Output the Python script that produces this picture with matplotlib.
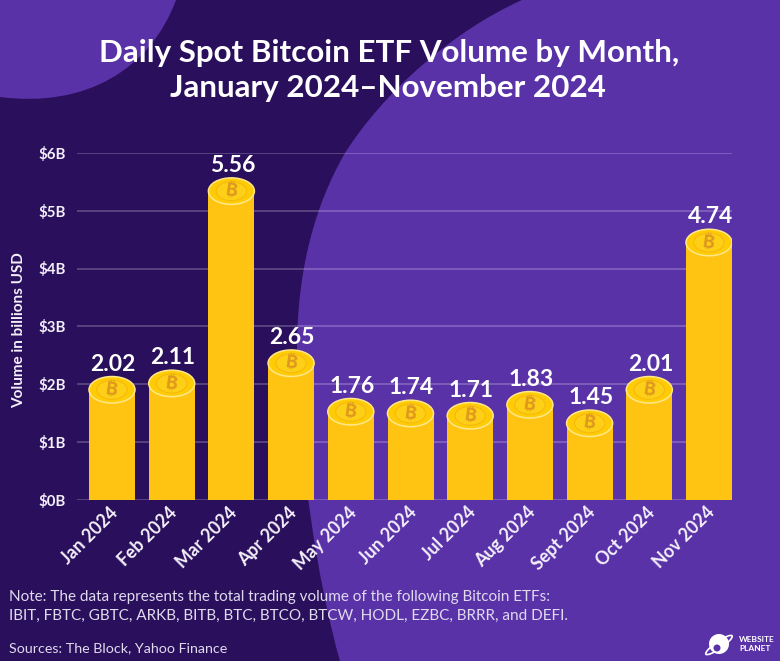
import matplotlib

matplotlib.use("Agg")
import matplotlib.pyplot as plt
from matplotlib.patches import Ellipse, PathPatch, Circle
from matplotlib.path import Path
from matplotlib.transforms import ScaledTranslation
import numpy as np

plt.rcParams["font.family"] = ["Lato", "DejaVu Sans"]

months = ["Jan 2024", "Feb 2024", "Mar 2024", "Apr 2024", "May 2024", "Jun 2024",
          "Jul 2024", "Aug 2024", "Sept 2024", "Oct 2024", "Nov 2024"]
# printed labels
values = [2.02, 2.11, 5.56, 2.65, 1.76, 1.74, 1.71, 1.83, 1.45, 2.01, 4.74]
# height of the drawn columns (the artwork sits a bit under its label)
drawn = [1.90, 2.01, 5.34, 2.36, 1.52, 1.49, 1.45, 1.64, 1.32, 1.90, 4.45]
y_ticks = [0, 1, 2, 3, 4, 5, 6]
y_labels = ["$0B", "$1B", "$2B", "$3B", "$4B", "$5B", "$6B"]

W, H = 780, 661
DARK = "#2a0f5c"
LIGHT = "#5a32a8"
GOLD = "#ffc412"
COIN = "#ffcb05"

fig = plt.figure(figsize=(W / 100, H / 100), dpi=100, facecolor=DARK)

# background shapes, in pixels
bg = fig.add_axes([0, 0, 1, 1], zorder=0)
bg.set_xlim(0, W)
bg.set_ylim(H, 0)
bg.axis("off")

right_shape = Path(
    [(522, 0), (455, 30), (385, 90), (345, 153), (315, 205), (297, 270), (297, 350),
     (297, 450), (318, 585), (340, 661), (780, 661), (780, 0), (522, 0)],
    [Path.MOVETO, Path.CURVE4, Path.CURVE4, Path.CURVE4, Path.CURVE4, Path.CURVE4, Path.CURVE4,
     Path.CURVE4, Path.CURVE4, Path.CURVE4, Path.LINETO, Path.LINETO, Path.CLOSEPOLY],
)
bg.add_patch(PathPatch(right_shape, fc=LIGHT, ec="none"))
left_shape = Path(
    [(0, 0), (176, 0), (150, 70), (85, 108), (0, 97), (0, 0)],
    [Path.MOVETO, Path.LINETO, Path.CURVE4, Path.CURVE4, Path.CURVE4, Path.CLOSEPOLY],
)
bg.add_patch(PathPatch(left_shape, fc=LIGHT, ec="none"))

# plot area: x 77-732 px, y 153-499.5 px
ax = fig.add_axes([77 / W, 1 - 499.5 / H, (732 - 77) / W, (499.5 - 153) / H], zorder=1)
ax.patch.set_alpha(0)
x = np.arange(len(months))
ax.set_xlim((77 - 112) / 59.7, (732 - 112) / 59.7)
ax.set_ylim(0, 6)

bar_w = 46 / 59.7
coin_h = 26.5 / 57.75
ax.bar(x, drawn, width=bar_w, color=GOLD, zorder=3)

for xi, top, val in zip(x, drawn, values):
    ax.add_patch(Ellipse((xi, top), bar_w, coin_h, fc=COIN, ec="#ffe88a", lw=1.1, zorder=4))
    ax.add_patch(Ellipse((xi, top), bar_w * 0.66, coin_h * 0.72, fc="#fdd017", ec="#f6b90f", lw=0.8, zorder=5))
    ax.text(xi, top, "\u20bf", family=["Inter", "Roboto", "Noto Sans", "Open Sans", "DejaVu Sans"],
            fontsize=13, fontweight="bold", color="#df981e", rotation=-8,
            ha="center", va="center", zorder=6)
    ax.annotate("{:.2f}".format(val), (xi, top), xytext=(0.8, 18.5), textcoords="offset points",
                ha="center", va="center", color="white", fontsize=16.5, fontweight="bold", zorder=7)

ax.set_yticks(y_ticks)
ax.set_yticklabels(y_labels, color="#f4f0fa", fontsize=10.8, fontweight="bold")
ax.set_xticks(x)
ax.set_xticklabels(months, rotation=45, ha="right", va="top", rotation_mode="anchor",
                   color="#f4f0fa", fontsize=12.8, fontweight="bold")
ax.tick_params(axis="both", length=0)
ax.tick_params(axis="y", pad=8)
ax.tick_params(axis="x", pad=3)
shift = ScaledTranslation(-3 / 100, 0, fig.dpi_scale_trans)
for lab in ax.get_xticklabels():
    lab.set_transform(lab.get_transform() + shift)
ax.grid(axis="y", color="white", alpha=0.25, lw=1.2, zorder=1)
ax.set_axisbelow(True)
for s in ax.spines.values():
    s.set_visible(False)


def px_text(px, py, s, **kw):
    fig.text(px / W, 1 - py / H, s, **kw)


px_text(389, 53, "Daily Spot Bitcoin ETF Volume by Month,", ha="center", va="center",
        color="white", fontsize=22.6, fontweight="bold")
px_text(388, 88, "January 2024\u2013November 2024", ha="center", va="center",
        color="white", fontsize=22.6, fontweight="bold")
px_text(19, 330, "Volume in billions USD", rotation=90, ha="center", va="center",
        color="#f4f0fa", fontsize=11, fontweight="bold")

note_col = "#e0daee"
px_text(9, 597, "Note: The data represents the total trading volume of the following Bitcoin ETFs:",
        ha="left", va="center", color=note_col, fontsize=11)
px_text(9, 616, "IBIT, FBTC, GBTC, ARKB, BITB, BTC, BTCO, BTCW, HODL, EZBC, BRRR, and DEFI.",
        ha="left", va="center", color=note_col, fontsize=11)
px_text(9, 648, "Sources: The Block, Yahoo Finance", ha="left", va="center", color=note_col, fontsize=10.3)

# logo
bg.add_patch(Circle((719, 644), 10, fc="white", ec="none"))
bg.add_patch(Ellipse((719, 645), 32, 7, angle=-35, fc="none", ec="white", lw=1.2))
bg.add_patch(Circle((717, 648), 3.5, fc=LIGHT, ec="none"))
px_text(739, 639, "WEBSITE", ha="left", va="center", color="white", fontsize=6, fontweight="bold")
px_text(739, 648.5, "PLANET", ha="left", va="center", color="white", fontsize=6, fontweight="bold")

fig.savefig("out.png", dpi=100, facecolor=DARK)
